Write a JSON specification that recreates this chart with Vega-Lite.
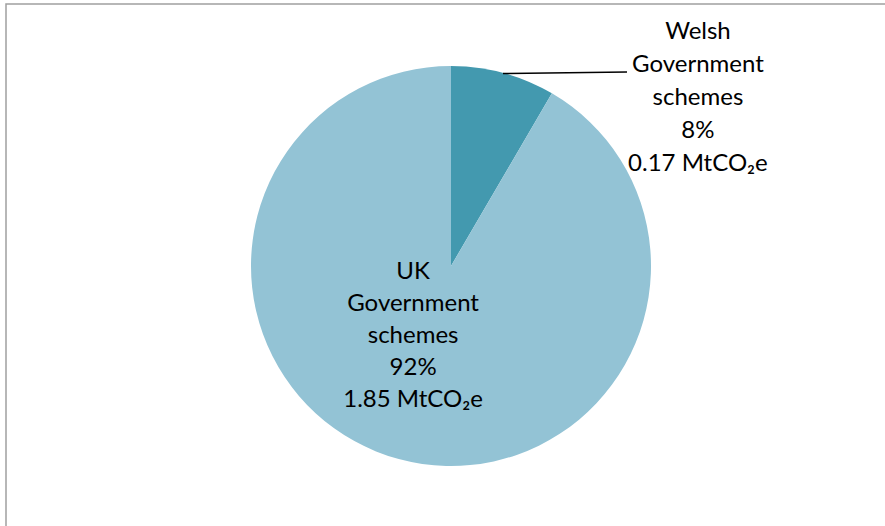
{
  "$schema": "https://vega.github.io/schema/vega-lite/v6.json",
  "width": 890,
  "height": 524,
  "padding": {"left": 6, "top": 4, "right": 0, "bottom": 0},
  "background": "white",
  "config": {"view": {"stroke": "#a0a0a0", "strokeWidth": 1.5}},
  "datasets": {
    "shares": [
      {"category": "Welsh Government schemes", "mtco2e": 0.17, "label": "Welsh\nGovernment\nschemes\n8%\n0.17 MtCO₂e"},
      {"category": "UK Government schemes", "mtco2e": 1.85, "label": "UK\nGovernment\nschemes\n92%\n1.85 MtCO₂e"}
    ],
    "leader": [
      {"x1": 0.26, "y1": 0.9625, "x2": 0.88, "y2": 0.97}
    ]
  },
  "layer": [
    {
      "data": {"name": "shares"},
      "mark": {"type": "arc", "radius": 200, "strokeWidth": 0},
      "encoding": {
        "theta": {"field": "mtco2e", "type": "quantitative", "stack": true},
        "order": {"field": "category", "sort": "descending"},
        "color": {
          "field": "category", "type": "nominal",
          "scale": {"domain": ["Welsh Government schemes", "UK Government schemes"], "range": ["#4399AF", "#93C3D5"]},
          "legend": null
        }
      }
    },
    {
      "data": {"name": "shares"},
      "mark": {"type": "text", "radius": 80, "dx": -17, "dy": -71, "font": "Lato", "fontSize": 24, "lineHeight": 32, "lineBreak": "\n", "align": "center", "baseline": "middle", "color": "black"},
      "encoding": {
        "theta": {"field": "mtco2e", "type": "quantitative", "stack": true},
        "order": {"field": "category", "sort": "descending"},
        "text": {"condition": {"test": "datum.category === 'UK Government schemes'", "field": "label"}, "value": ""}
      }
    },
    {
      "data": {"name": "shares"},
      "mark": {"type": "text", "radius": 260, "dx": 179, "dy": 17, "font": "Lato", "fontSize": 24, "lineHeight": 33, "lineBreak": "\n", "align": "center", "baseline": "middle", "color": "black"},
      "encoding": {
        "theta": {"field": "mtco2e", "type": "quantitative", "stack": true},
        "order": {"field": "category", "sort": "descending"},
        "text": {"condition": {"test": "datum.category === 'Welsh Government schemes'", "field": "label"}, "value": ""}
      }
    },
    {
      "data": {"name": "leader"},
      "mark": {"type": "rule", "color": "black", "strokeWidth": 1.5},
      "encoding": {
        "x": {"field": "x1", "type": "quantitative", "scale": {"domain": [-2.225, 2.225], "nice": false, "zero": false}, "axis": null},
        "x2": {"field": "x2"},
        "y": {"field": "y1", "type": "quantitative", "scale": {"domain": [-1.31, 1.31], "nice": false, "zero": false}, "axis": null},
        "y2": {"field": "y2"}
      }
    }
  ]
}
